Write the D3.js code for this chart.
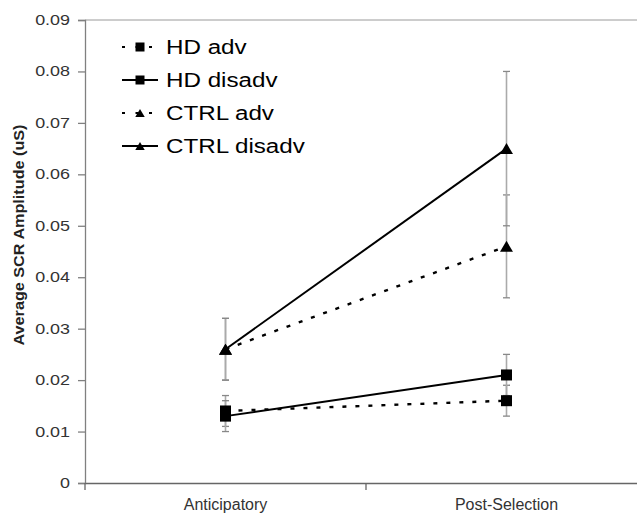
<!DOCTYPE html>
<html><head><meta charset="utf-8">
<script src="https://cdn.jsdelivr.net/npm/d3@7"></script>
<style>body{margin:0;background:#fff}svg{display:block;font-family:Arial,"Liberation Sans",sans-serif}</style>
</head><body>
<svg id="c" width="637" height="517"></svg>
<script>
const categories = ["Anticipatory", "Post-Selection"];
const yTicks = [0, 0.01, 0.02, 0.03, 0.04, 0.05, 0.06, 0.07, 0.08, 0.09];
const seriesNames = ["HD adv", "HD disadv", "CTRL adv", "CTRL disadv"];
const hdAdv = [0.014, 0.016];
const hdAdvErr = [0.003, 0.003];
const hdDisadv = [0.013, 0.021];
const hdDisadvErr = [0.003, 0.004];
const ctrlAdv = [0.026, 0.046];
const ctrlAdvErr = [0.006, 0.010];
const ctrlDisadv = [0.026, 0.065];
const ctrlDisadvErr = [0.006, 0.015];

const series = [
  {name: seriesNames[0], vals: hdAdv, err: hdAdvErr, marker: "square", dashed: true},
  {name: seriesNames[1], vals: hdDisadv, err: hdDisadvErr, marker: "square", dashed: false},
  {name: seriesNames[2], vals: ctrlAdv, err: ctrlAdvErr, marker: "triangle", dashed: true},
  {name: seriesNames[3], vals: ctrlDisadv, err: ctrlDisadvErr, marker: "triangle", dashed: false}
];

const svg = d3.select("#c");
const x = d3.scaleBand().domain(categories).range([85, 647]).padding(0);
const cx = c => x(c) + x.bandwidth() / 2;
const y = d3.scaleLinear().domain([0, 0.09]).range([483, 20]);

// top border
svg.append("line").attr("x1", 85).attr("x2", 637).attr("y1", y(0.09)).attr("y2", y(0.09))
  .attr("stroke", "#9a9a9a").attr("stroke-width", 1);

// y axis
const yAxis = svg.append("g").attr("transform", "translate(85,0)")
  .call(d3.axisLeft(y).tickValues(yTicks).tickSize(7).tickPadding(8)
    .tickFormat(d => d === 0 ? "0" : d3.format(".2f")(d)));
yAxis.selectAll("path,line").attr("stroke", "#808080").attr("stroke-width", 1.3);
yAxis.selectAll("text").attr("font-size", 14).attr("fill", "#333").attr("font-family", "Arial, 'Liberation Sans', sans-serif")
  .each(function() { const L = this.getComputedTextLength(); d3.select(this).attr("textLength", L * 1.28).attr("lengthAdjust", "spacingAndGlyphs"); });

// x axis
const xAxis = svg.append("g").attr("transform", `translate(0,${y(0)})`)
  .call(d3.axisBottom(x).tickSize(0).tickPadding(16));
xAxis.select("path").attr("stroke", "#666").attr("stroke-width", 1.3);
xAxis.selectAll("text").attr("font-size", 16).attr("fill", "#333").attr("font-family", "Arial, 'Liberation Sans', sans-serif");
// category boundary ticks
const bounds = [x.range()[0], x(categories[1]), x.range()[1]];
xAxis.selectAll(".bt").data(bounds).join("line").attr("class", "bt")
  .attr("x1", d => d).attr("x2", d => d).attr("y1", 0).attr("y2", 7)
  .attr("stroke", "#666").attr("stroke-width", 1.3);

// y title
svg.append("text").attr("transform", "translate(24,235) rotate(-90)")
  .attr("text-anchor", "middle").attr("font-size", 14).attr("font-weight", "bold").attr("fill", "#222")
  .attr("textLength", 221).attr("lengthAdjust", "spacingAndGlyphs")
  .text("Average SCR Amplitude (uS)");

// error bars
const eb = svg.append("g");
series.forEach(s => {
  categories.forEach((c, i) => {
    const v = s.vals[i], e = s.err[i], px = cx(c);
    eb.append("line").attr("x1", px).attr("x2", px).attr("y1", y(v + e)).attr("y2", y(v - e))
      .attr("stroke", "#aaa").attr("stroke-width", 1.6);
    [v + e, v - e].forEach(t => eb.append("line").attr("x1", px - 3.5).attr("x2", px + 3.5)
      .attr("y1", y(t)).attr("y2", y(t)).attr("stroke", "#888").attr("stroke-width", 1.3));
  });
});

// lines
const lineGen = d3.line().x((d, i) => cx(categories[i])).y(d => y(d));
series.forEach(s => {
  svg.append("path").datum(s.vals).attr("d", lineGen).attr("fill", "none")
    .attr("stroke", "#000").attr("stroke-width", s.dashed ? 2.4 : 2)
    .attr("stroke-dasharray", s.dashed ? "4,9" : null);
});

// markers
function marker(g, type, px, py, size) {
  if (type === "square") {
    g.append("rect").attr("x", px - size / 2).attr("y", py - size / 2).attr("width", size).attr("height", size).attr("fill", "#000");
  } else {
    const w = size * 1.18, h = size;
    g.append("path").attr("d", `M${px - w / 2},${py + h / 2}L${px + w / 2},${py + h / 2}L${px},${py - h / 2}Z`).attr("fill", "#000");
  }
}
const mk = svg.append("g");
series.forEach(s => categories.forEach((c, i) => marker(mk, s.marker, cx(c), y(s.vals[i]), 11)));

// legend
const lg = svg.append("g");
series.forEach((s, i) => {
  const ry = 47 + i * 33;
  lg.append("line").attr("x1", 122).attr("x2", 158).attr("y1", ry).attr("y2", ry)
    .attr("stroke", "#000").attr("stroke-width", 2)
    .attr("stroke-dasharray", s.dashed ? "3,10.5" : null);
  marker(lg, s.marker, 140, ry, s.marker === "square" ? 9 : 8);
  lg.append("text").attr("x", 166).attr("y", ry + 7).attr("font-size", 19.5).attr("fill", "#000")
    .text(s.name)
    .each(function() { const L = this.getComputedTextLength(); d3.select(this).attr("textLength", L * 1.24).attr("lengthAdjust", "spacingAndGlyphs"); });
});
</script>
</body></html>
